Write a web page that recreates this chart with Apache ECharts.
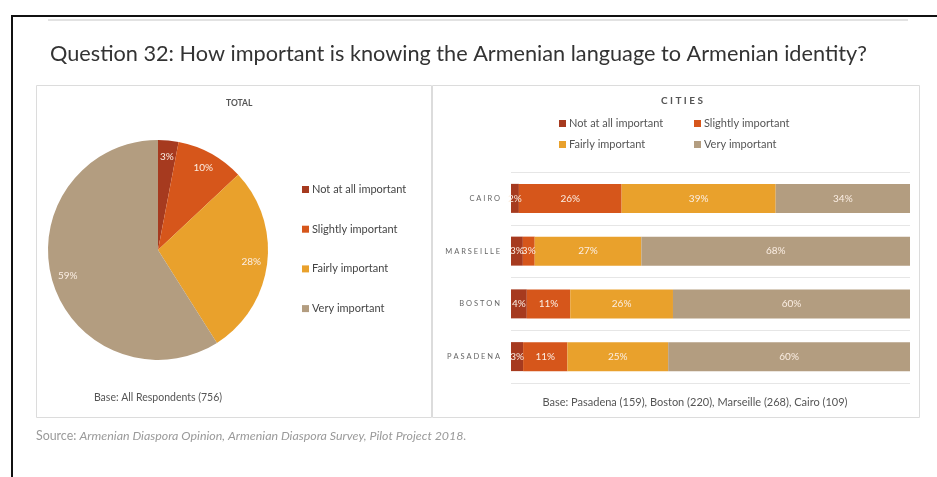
<!DOCTYPE html>
<html>
<head>
<meta charset="utf-8">
<script src="https://cdn.jsdelivr.net/npm/echarts@6/dist/echarts.min.js"></script>
<style>
html,body{margin:0;padding:0;background:#fff;}
#chart{width:937px;height:477px;}
</style>
</head>
<body>
<div id="chart"></div>
<script>
// ---- data ----
var categories = ['Not at all important', 'Slightly important', 'Fairly important', 'Very important'];
var colors = ['#a63a1f', '#d6561b', '#e9a12c', '#b39d80'];
var totalValues = [3, 10, 28, 59];
var cities = ['CAIRO', 'MARSEILLE', 'BOSTON', 'PASADENA'];
var notAtAll = [2, 3, 4, 3];
var slightly = [26, 3, 11, 11];
var fairly = [39, 27, 26, 25];
var very = [34, 68, 60, 60];

var cityRows = [notAtAll, slightly, fairly, very];
var rowSums = cities.map(function (c, i) {
  return cityRows.reduce(function (s, arr) { return s + arr[i]; }, 0);
});

var font = 'Lato';

var pieData = categories.map(function (n, i) {
  return { name: n, value: totalValues[i], itemStyle: { color: colors[i] } };
});

var barSeries = categories.map(function (n, k) {
  return {
    name: n,
    type: 'bar',
    stack: 'all',
    barWidth: 29,
    xAxisIndex: 0, yAxisIndex: 0,
    itemStyle: { color: colors[k] },
    label: {
      show: true,
      position: 'inside',
      color: '#fbeee3',
      fontSize: 10,
      fontFamily: font,
      formatter: function (p) { return cityRows[k][p.dataIndex] + '%'; }
    },
    data: cityRows[k].map(function (v, i) { return v / rowSums[i] * 100; })
  };
});

function oneLegend(name, left, top) {
  return {
    data: [name], left: left, top: top, orient: 'horizontal',
    icon: 'rect', itemWidth: 7, itemHeight: 7, itemGap: 4, padding: 0,
    selectedMode: false,
    textStyle: { fontSize: 11, color: '#555', fontFamily: font, padding: [0, 0, 0, -2] }
  };
}

var option = {
  animation: false,
  backgroundColor: '#fff',
  textStyle: { fontFamily: font },
  graphic: [
    { type: 'line', shape: { x1: 11, y1: 16, x2: 937, y2: 16 }, style: { stroke: '#111', lineWidth: 2 } },
    { type: 'line', shape: { x1: 12, y1: 16, x2: 12, y2: 477 }, style: { stroke: '#111', lineWidth: 2 } },
    { type: 'line', shape: { x1: 48, y1: 20, x2: 908, y2: 20 }, style: { stroke: '#e2e2e2', lineWidth: 2 } },
    { type: 'rect', shape: { x: 36.5, y: 85.5, width: 395, height: 332 }, style: { fill: 'none', stroke: '#dcdcdc', lineWidth: 1 } },
    { type: 'rect', shape: { x: 432.5, y: 85.5, width: 487, height: 332 }, style: { fill: 'none', stroke: '#dcdcdc', lineWidth: 1 } },
    { type: 'text', left: 50, top: 43, style: { text: 'Question 32: How important is knowing the Armenian language to Armenian identity?', fontSize: 21.7, fill: '#333', fontFamily: font } },
    { type: 'text', left: 226, top: 99, style: { text: 'TOTAL', fontSize: 8.5, fontWeight: 'bold', fill: '#555', fontFamily: font } },
    { type: 'text', left: 661, top: 96, style: { text: 'C I T I E S', fontSize: 10, fontWeight: 'bold', fill: '#555', fontFamily: font } },
    { type: 'text', x: 158, y: 398, style: { text: 'Base: All Respondents (756)', fontSize: 10.5, fill: '#555', fontFamily: font, align: 'center', verticalAlign: 'middle' } },
    { type: 'text', x: 695, y: 402, style: { text: 'Base: Pasadena (159), Boston (220), Marseille (268), Cairo (109)', fontSize: 11, fill: '#555', fontFamily: font, align: 'center', verticalAlign: 'middle' } },
    { type: 'text', left: 36, top: 430, style: {
      text: '{n|Source: }{i|Armenian Diaspora Opinion, Armenian Diaspora Survey, Pilot Project 2018.}',
      rich: {
        n: { fontSize: 12.4, fill: '#9a9a9a', fontFamily: font },
        i: { fontSize: 12.4, fill: '#9a9a9a', fontStyle: 'italic', fontFamily: font }
      }
    } }
  ],
  legend: [
    {
      data: categories, orient: 'vertical', left: 302, top: 183, itemGap: 26.7,
      icon: 'rect', itemWidth: 7, itemHeight: 7, padding: 0, selectedMode: false,
      textStyle: { fontSize: 11, color: '#444', fontFamily: font, padding: [0, 0, 0, -2], lineHeight: 13 }
    },
    oneLegend(categories[0], 559, 118),
    oneLegend(categories[1], 694, 118),
    oneLegend(categories[2], 559, 139),
    oneLegend(categories[3], 694, 139)
  ],
  grid: { left: 511, right: 27, top: 172, height: 211, containLabel: false },
  xAxis: { type: 'value', min: 0, max: 100, show: false },
  yAxis: {
    type: 'category', data: cities, inverse: true,
    axisLine: { show: false }, axisTick: { show: false },
    splitLine: { show: true, lineStyle: { color: '#e6e6e6', width: 1 } },
    axisLabel: {
      fontSize: 7.5, color: '#666', margin: 11, fontFamily: font,
      formatter: function (v) { return v.split('').join(' '); }
    }
  },
  series: [
    {
      type: 'pie', name: 'total', center: [158, 250], radius: [0, 110],
      startAngle: 90, clockwise: true, silent: true,
      label: { show: false }, labelLine: { show: false },
      itemStyle: { borderWidth: 0 },
      data: pieData
    },
    {
      type: 'pie', name: 'totalLabels', center: [158, 250], radius: [72, 110],
      startAngle: 90, clockwise: true, silent: true,
      itemStyle: { color: 'rgba(0,0,0,0)', borderWidth: 0 },
      label: { show: true, position: 'inside', color: '#fbeee3', fontSize: 10, fontFamily: font, formatter: '{c}%' },
      labelLine: { show: false },
      legendHoverLink: false,
      data: totalValues.map(function (v, i) { return { name: 'lbl' + i, value: v }; })
    }
  ].concat(barSeries)
};

var chart = echarts.init(document.getElementById('chart'), null, { renderer: 'canvas' });
chart.setOption(option);
</script>
</body>
</html>
